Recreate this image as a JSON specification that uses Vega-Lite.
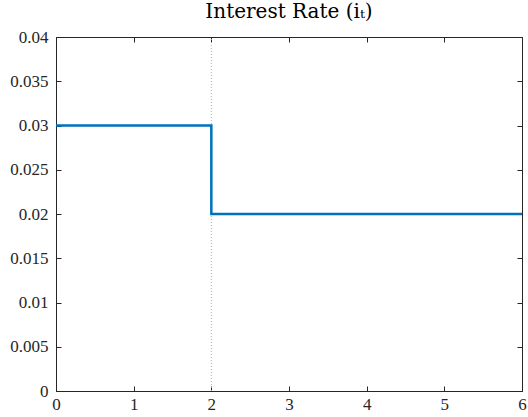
{
  "$schema": "https://vega.github.io/schema/vega-lite/v6.json",
  "width": 466,
  "height": 354,
  "autosize": {"type": "none"},
  "padding": {"left": 56, "top": 37, "right": 6, "bottom": 26},
  "background": "white",
  "title": {"text": "Interest Rate (iₜ)", "font": "DejaVu Serif", "fontSize": 20, "fontWeight": "normal", "color": "#000000", "offset": 6},
  "config": {
    "view": {"stroke": "#262626", "strokeWidth": 1},
    "axis": {"grid": false, "labelFont": "Liberation Serif", "labelFontSize": 17, "labelColor": "#262626", "domainColor": "#262626", "tickColor": "#262626", "tickSize": -5, "title": null}
  },
  "datasets": {
    "rate": [
      {"t": 0, "i": 0.03},
      {"t": 2, "i": 0.02},
      {"t": 6, "i": 0.02}
    ],
    "mark": [{"t": 2}]
  },
  "resolve": {"axis": {"x": "independent", "y": "independent"}},
  "layer": [
    {
      "data": {"name": "mark"},
      "mark": {"type": "rule", "color": "#b0b0b0", "strokeWidth": 1, "strokeDash": [1, 2]},
      "encoding": {
        "x": {"field": "t", "type": "quantitative", "scale": {"domain": [0, 6], "nice": false},
              "axis": {"orient": "top", "labels": false, "values": [0,1,2,3,4,5,6], "domain": false}},
        "y": {"datum": 0, "type": "quantitative", "scale": {"domain": [0, 0.04], "nice": false},
              "axis": {"orient": "right", "labels": false, "values": [0,0.005,0.01,0.015,0.02,0.025,0.03,0.035,0.04], "domain": false}},
        "y2": {"datum": 0.04}
      }
    },
    {
      "data": {"name": "rate"},
      "mark": {"type": "line", "interpolate": "step-after", "color": "#0072BD", "strokeWidth": 2.5},
      "encoding": {
        "x": {"field": "t", "type": "quantitative", "scale": {"domain": [0, 6], "nice": false},
              "axis": {"orient": "bottom", "values": [0,1,2,3,4,5,6], "labelPadding": 10, "labelFlush": false}},
        "y": {"field": "i", "type": "quantitative", "scale": {"domain": [0, 0.04], "nice": false},
              "axis": {"orient": "left", "values": [0,0.005,0.01,0.015,0.02,0.025,0.03,0.035,0.04], "labelExpr": "'' + datum.value", "labelPadding": 13, "labelFlush": false}}
      }
    }
  ]
}
